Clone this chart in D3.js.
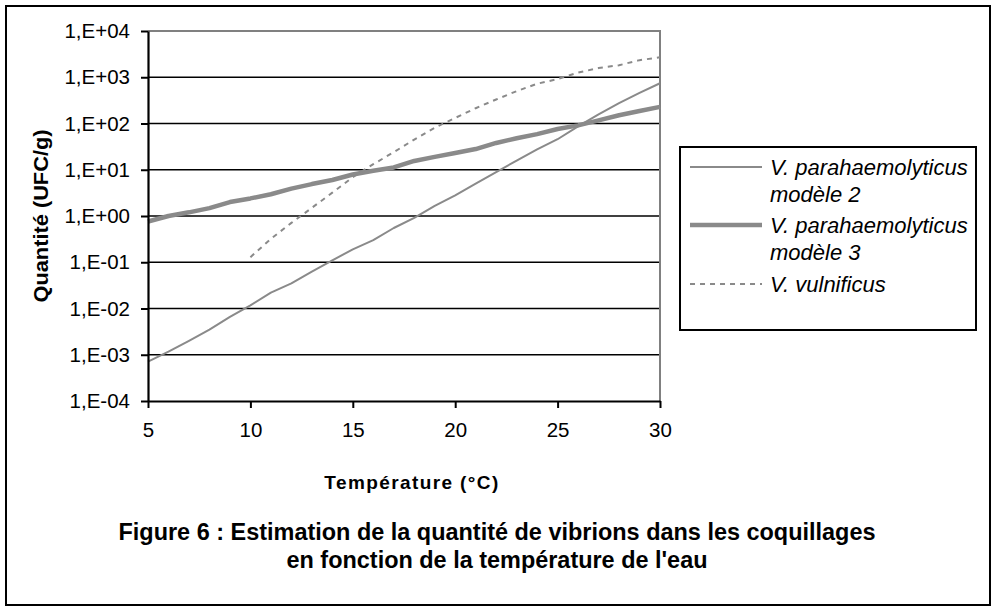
<!DOCTYPE html>
<html>
<head>
<meta charset="utf-8">
<script src="https://cdn.jsdelivr.net/npm/d3@7"></script>
<style>
  html, body { margin: 0; padding: 0; background: #fff; }
  svg { display: block; }
  text { font-family: "Liberation Sans", Arial, sans-serif; fill: #000; }
</style>
</head>
<body>
<svg id="chart" width="993" height="607"></svg>
<script>
// Water temperature (°C)
const temperatures = [5, 6, 7, 8, 9, 10, 11, 12, 13, 14, 15, 16, 17, 18, 19, 20,
                      21, 22, 23, 24, 25, 26, 27, 28, 29, 30];

// V. parahaemolyticus, modèle 2 (UFC/g)
const vpModele2 = [7.1e-4, 1.17e-3, 2.0e-3, 3.5e-3, 6.6e-3, 1.17e-2, 2.2e-2, 3.5e-2,
                   6.3e-2, 0.11, 0.19, 0.30, 0.55, 0.91, 1.66, 2.8, 5.0, 8.9, 15.8,
                   27.5, 45.7, 87, 158, 275, 457, 741];

// V. parahaemolyticus, modèle 3 (UFC/g)
const vpModele3 = [0.76, 1.0, 1.2, 1.48, 2.0, 2.4, 2.95, 3.9, 4.9, 6.0, 7.9, 9.5, 11.2,
                   15.5, 19, 23, 28, 38, 48, 59, 76, 91, 117, 151, 186, 229];

// V. vulnificus (UFC/g), estimated from 10 °C upwards
const vulnTemperatures = [10, 11, 12, 13, 14, 15, 16, 17, 18, 19, 20,
                          21, 22, 23, 24, 25, 26, 27, 28, 29, 30];
const vVulnificus = [0.129, 0.32, 0.71, 1.5, 3.2, 6.9, 13.2, 24, 45, 81, 132,
                     214, 331, 501, 724, 912, 1259, 1585, 1820, 2344, 2692];

// Axis ticks
const xTicks = [5, 10, 15, 20, 25, 30];
const yTicks = [1e-4, 1e-3, 1e-2, 1e-1, 1, 1e1, 1e2, 1e3, 1e4];
const yTickLabels = ["1,E-04", "1,E-03", "1,E-02", "1,E-01", "1,E+00",
                     "1,E+01", "1,E+02", "1,E+03", "1,E+04"];

const seriesNames = ["V. parahaemolyticus|modèle 2", "V. parahaemolyticus|modèle 3", "V. vulnificus"];

const svg = d3.select("#chart");
const plot = { left: 148, right: 660, top: 31, bottom: 401 };

const x = d3.scaleLinear().domain([5, 30]).range([plot.left, plot.right]);
const y = d3.scaleLog().domain([1e-4, 1e4]).range([plot.bottom, plot.top]);

const lineGrey = "#8a8a8a";

// Outer frame
svg.append("rect")
  .attr("x", 6).attr("y", 6).attr("width", 984).attr("height", 599)
  .attr("fill", "#fff").attr("stroke", "#000").attr("stroke-width", 2);

// Horizontal gridlines (one per decade)
svg.append("g")
  .selectAll("line")
  .data(yTicks.slice(1, -1))
  .join("line")
  .attr("x1", plot.left).attr("x2", plot.right)
  .attr("y1", d => y(d)).attr("y2", d => y(d))
  .attr("stroke", "#000").attr("stroke-width", 1.5);

// Plot area border (top and right in grey)
svg.append("path")
  .attr("d", `M${plot.left},${y(1e4)}H${plot.right}V${plot.bottom}`)
  .attr("fill", "none").attr("stroke", "#808080").attr("stroke-width", 2);

// Series
const lineGen = d3.line().x(d => x(d[0])).y(d => y(d[1]));

svg.append("path")
  .datum(d3.zip(temperatures, vpModele3))
  .attr("d", lineGen)
  .attr("fill", "none").attr("stroke", lineGrey).attr("stroke-width", 4.5)
  .attr("stroke-linejoin", "round");

svg.append("path")
  .datum(d3.zip(temperatures, vpModele2))
  .attr("d", lineGen)
  .attr("fill", "none").attr("stroke", lineGrey).attr("stroke-width", 2)
  .attr("stroke-linejoin", "round");

svg.append("path")
  .datum(d3.zip(vulnTemperatures, vVulnificus))
  .attr("d", lineGen)
  .attr("fill", "none").attr("stroke", lineGrey).attr("stroke-width", 2)
  .attr("stroke-dasharray", "5,5");

// Axes
const yAxis = d3.axisLeft(y)
  .tickValues(yTicks)
  .tickFormat((d, i) => yTickLabels[i])
  .tickSizeInner(7).tickSizeOuter(0).tickPadding(11);

const gy = svg.append("g")
  .attr("transform", `translate(${plot.left},0)`)
  .call(yAxis);
gy.select(".domain").attr("stroke", "#000").attr("stroke-width", 2.2);
gy.selectAll(".tick line").attr("stroke", "#000").attr("stroke-width", 2);
gy.selectAll(".tick text")
  .attr("font-family", "'Liberation Sans', Arial, sans-serif")
  .attr("font-size", "20.5px").attr("fill", "#000");

const xAxis = d3.axisBottom(x)
  .tickValues(xTicks)
  .tickFormat(d3.format("d"))
  .tickSizeInner(7).tickSizeOuter(0).tickPadding(14);

const gx = svg.append("g")
  .attr("transform", `translate(0,${plot.bottom})`)
  .call(xAxis);
gx.select(".domain").attr("stroke", "#000").attr("stroke-width", 2.2);
gx.selectAll(".tick line").attr("stroke", "#000").attr("stroke-width", 2);
gx.selectAll(".tick text")
  .attr("font-family", "'Liberation Sans', Arial, sans-serif")
  .attr("font-size", "20.5px").attr("fill", "#000");

// Axis titles
svg.append("text")
  .attr("transform", "translate(48,216) rotate(-90)")
  .attr("text-anchor", "middle")
  .attr("font-weight", "bold").attr("font-size", "21px")
  .attr("textLength", 173).attr("lengthAdjust", "spacingAndGlyphs")
  .text("Quantité (UFC/g)");

svg.append("text")
  .attr("x", (plot.left + plot.right) / 2 + 8).attr("y", 489)
  .attr("text-anchor", "middle")
  .attr("font-weight", "bold").attr("font-size", "19px")
  .attr("letter-spacing", "1.4px")
  .text("Température (°C)");

// Figure caption
const caption = [
  { text: "Figure 6 : Estimation de la quantité de vibrions dans les coquillages", y: 540, w: 757 },
  { text: "en fonction de la température de l'eau", y: 568, w: 421 }
];
svg.append("g").selectAll("text")
  .data(caption)
  .join("text")
  .attr("x", 497).attr("y", d => d.y)
  .attr("text-anchor", "middle")
  .attr("font-weight", "bold").attr("font-size", "23px")
  .attr("textLength", d => d.w).attr("lengthAdjust", "spacingAndGlyphs")
  .text(d => d.text);

// Legend
const legend = svg.append("g");
legend.append("rect")
  .attr("x", 680).attr("y", 147).attr("width", 296).attr("height", 183)
  .attr("fill", "#fff").attr("stroke", "#000").attr("stroke-width", 2);

const legendItems = [
  { name: seriesNames[0], ly: 167, width: 2, dash: null },
  { name: seriesNames[1], ly: 225, width: 4.5, dash: null },
  { name: seriesNames[2], ly: 284, width: 2, dash: "5,5" }
];
legendItems.forEach(item => {
  legend.append("line")
    .attr("x1", 690).attr("x2", 762)
    .attr("y1", item.ly).attr("y2", item.ly)
    .attr("stroke", lineGrey).attr("stroke-width", item.width)
    .attr("stroke-dasharray", item.dash);
  const parts = item.name.split("|");
  const t = legend.append("text")
    .attr("font-style", "italic").attr("font-size", "22px");
  parts.forEach((p, i) => {
    t.append("tspan")
      .attr("x", 770)
      .attr("y", item.ly + 8 + i * 27)
      .text(p);
  });
});
</script>
</body>
</html>
